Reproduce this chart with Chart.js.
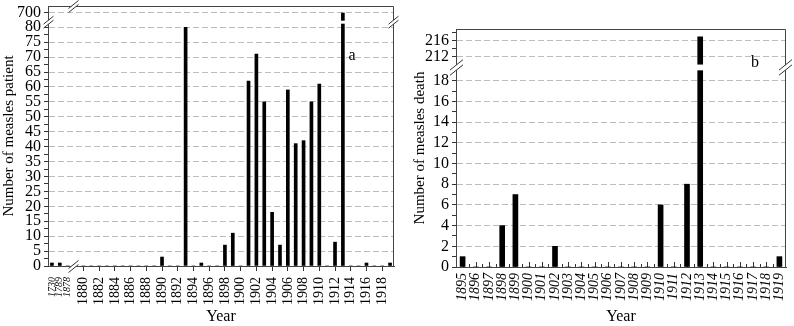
<!DOCTYPE html>
<html>
<head>
<meta charset="utf-8">
<script src="https://cdn.jsdelivr.net/npm/chart.js@4.4.1/dist/chart.umd.min.js"></script>
<style>
  html, body { margin: 0; padding: 0; background: #fff; }
  #wrap { position: relative; width: 794px; height: 326px; }
  #chartA { position: absolute; left: 0; top: 0; }
  #chartB { position: absolute; left: 400px; top: 0; }
</style>
</head>
<body>
<div id="wrap">
  <canvas id="chartA" width="400" height="326"></canvas>
  <canvas id="chartB" width="394" height="326"></canvas>
</div>
<script>
const SERIF = '"Liberation Serif", "Times New Roman", serif';

// (a) measles patients per year ('' is the gap after the axis break)
const patientYears = ['1730', '1789', '1878', '',
  '1880', '1881', '1882', '1883', '1884', '1885', '1886', '1887', '1888', '1889',
  '1890', '1891', '1892', '1893', '1894', '1895', '1896', '1897', '1898', '1899',
  '1900', '1901', '1902', '1903', '1904', '1905', '1906', '1907', '1908', '1909',
  '1910', '1911', '1912', '1913', '1914', '1915', '1916', '1917', '1918', '1919'];
const patientCounts = [1, 1, 0, null,
  0, 0, 0, 0, 0, 0, 0, 0, 0, 0,
  3, 0, 0, 80, 0, 1, 0, 0, 7, 11,
  0, 62, 71, 55, 18, 7, 59, 41, 42, 55,
  61, 0, 8, 700, 0, 0, 1, 0, 0, 1];
const patientMajorTicks = [0, 5, 10, 15, 20, 25, 30, 35, 40, 45, 50, 55, 60, 65, 70, 75, 80, 700];
const patientMinorTicks = [2.5, 7.5, 12.5, 17.5, 22.5, 27.5, 32.5, 37.5, 42.5, 47.5, 52.5, 57.5,
  62.5, 67.5, 72.5, 77.5];

// (b) measles deaths per year
const deathYears = ['1895', '1896', '1897', '1898', '1899', '1900', '1901', '1902', '1903',
  '1904', '1905', '1906', '1907', '1908', '1909', '1910', '1911', '1912', '1913', '1914',
  '1915', '1916', '1917', '1918', '1919'];
const deathCounts = [1, 0, 0, 4, 7, 0, 0, 2, 0, 0, 0, 0, 0, 0, 0, 6, 0, 8, 217, 0, 0, 0, 0, 0, 1];
const deathMajorTicks = [0, 2, 4, 6, 8, 10, 12, 14, 16, 18, 212, 216];
const deathMinorTicks = [1, 3, 5, 7, 9, 11, 13, 15, 17, 214, 218];

/**
 * Linear axis with one break: two value ranges, each mapped to its own
 * share of the axis length.
 */
class BrokenScale extends Chart.LinearScale {
    static id = 'broken';
    static defaults = Chart.LinearScale.defaults;

    buildTicks() {
        const o = this.options;
        const ticks = o.majorValues.map(v => ({ value: v, minor: false }))
            .concat(o.minorValues.map(v => ({ value: v, minor: true })));
        return ticks.sort((a, b) => a.value - b.value);
    }

    toDecimal(value) {
        const o = this.options;
        const [l0, l1] = o.lowerRange, [u0, u1] = o.upperRange;
        const [ls, le] = o.lowerSpan, [us, ue] = o.upperSpan;
        if (value <= l1) return ls + (value - l0) / (l1 - l0) * (le - ls);
        if (value >= u0) return us + (value - u0) / (u1 - u0) * (ue - us);
        return (le + us) / 2;
    }

    getPixelForValue(value) {
        if (value === null || value === undefined || isNaN(value)) return NaN;
        return this.getPixelForDecimal(this.toDecimal(value));
    }

    getValueForPixel(pixel) {
        const o = this.options;
        const d = this.getDecimalForPixel(pixel);
        const [l0, l1] = o.lowerRange, [u0, u1] = o.upperRange;
        const [ls, le] = o.lowerSpan, [us, ue] = o.upperSpan;
        if (d <= le) return l0 + (d - ls) / (le - ls) * (l1 - l0);
        return u0 + (d - us) / (ue - us) * (u1 - u0);
    }
}
Chart.register(BrokenScale);

// "//" break mark, white between the strokes
const drawSlash = (ctx, x, y, s) => {
    ctx.save();
    ctx.translate(x, y);
    ctx.scale(s, s);
    ctx.fillStyle = '#fff';
    ctx.beginPath();
    ctx.moveTo(-5, 2); ctx.lineTo(5, -6); ctx.lineTo(5, -2); ctx.lineTo(-5, 6);
    ctx.closePath();
    ctx.fill();
    ctx.strokeStyle = '#333';
    ctx.lineWidth = 1 / s;
    ctx.beginPath();
    ctx.moveTo(-5, 2); ctx.lineTo(5, -6);
    ctx.moveTo(-5, 6); ctx.lineTo(5, -2);
    ctx.stroke();
    ctx.restore();
};

// frame, axis breaks, panel letter and inner x ticks
const makeDecor = ({ letter, letterAt, slashSize, xBreakIndex, innerTicks }) => ({
    id: 'decor',
    beforeDatasetsDraw(chart) {
        if (!innerTicks) return;
        const { ctx, chartArea: a, scales: { x } } = chart;
        const n = chart.data.labels.length;
        ctx.save();
        ctx.strokeStyle = '#333';
        ctx.lineWidth = 1;
        ctx.beginPath();
        for (let i = 0; i < n; i++) {
            const px = Math.round(x.getPixelForValue(i)) + 0.5;
            ctx.moveTo(px, a.bottom); ctx.lineTo(px, a.bottom - 5);
            if (i < n - 1) {
                const mid = Math.round((x.getPixelForValue(i) + x.getPixelForValue(i + 1)) / 2) + 0.5;
                ctx.moveTo(mid, a.bottom); ctx.lineTo(mid, a.bottom - 3);
            }
        }
        ctx.stroke();
        ctx.restore();
    },
    afterDatasetsDraw(chart) {
        // gap through the bars at the value break
        const { ctx, chartArea: a, scales: { y } } = chart;
        const top = y.getPixelForValue(y.options.upperRange[0]);
        const bottom = y.getPixelForValue(y.options.lowerRange[1]);
        ctx.save();
        ctx.fillStyle = '#fff';
        ctx.fillRect(a.left + 1, top, a.width - 2, bottom - top);
        ctx.restore();
    },
    afterDraw(chart) {
        const { ctx, chartArea: a, scales: { x, y } } = chart;
        const left = Math.round(a.left) + 0.5;
        const right = Math.round(a.right) - 0.5;
        const top = Math.round(a.top) + 0.5;
        ctx.save();
        ctx.strokeStyle = '#444';
        ctx.lineWidth = 1;
        ctx.beginPath();
        ctx.moveTo(left, top); ctx.lineTo(right, top); ctx.lineTo(right, a.bottom);
        ctx.stroke();
        ctx.restore();

        const breakY = (y.getPixelForValue(y.options.upperRange[0]) +
            y.getPixelForValue(y.options.lowerRange[1])) / 2;
        drawSlash(ctx, left, breakY, slashSize);
        drawSlash(ctx, right, breakY, slashSize);
        if (xBreakIndex !== undefined) {
            const bx = x.getPixelForValue(xBreakIndex) - 2;
            drawSlash(ctx, bx, top, slashSize);
            drawSlash(ctx, bx, Math.round(a.bottom) + 0.5, slashSize);
        }

        ctx.save();
        ctx.fillStyle = '#000';
        ctx.font = '16px ' + SERIF;
        ctx.textAlign = 'center';
        ctx.textBaseline = 'middle';
        ctx.fillText(letter, a.left + letterAt[0] * a.width, a.top + letterAt[1] * a.height);
        ctx.restore();
    }
});

const yAxis = (title, titlePad, width, extra) => Object.assign({
    type: 'broken',
    grid: {
        color: c => (c.tick && !c.tick.minor && c.tick.value !== 0) ? '#bdbdbd' : 'rgba(0,0,0,0)',
        tickColor: '#333',
        tickLength: 4
    },
    border: { color: '#444', dash: [6, 3] },
    ticks: {
        autoSkip: false,
        padding: 3,
        color: '#000',
        font: { family: SERIF, size: 16 },
        callback: (v, i, ticks) => ticks[i].minor ? '' : String(v)
    },
    title: {
        display: true, text: title, color: '#000',
        font: { family: SERIF, size: 15 },
        padding: { top: titlePad, bottom: 0 }
    },
    afterFit: s => { s.width = width; s.paddingTop = 0; s.paddingBottom = 0; }
}, extra);

const xTitle = {
    display: true, text: 'Year', color: '#000',
    font: { family: SERIF, size: 16 },
    padding: { top: 0, bottom: 0 }
};

/**
 * Panel a: patients
 * ======================================================================== */
const initPatients = () => {
    const isTicked = i => i >= 4 && Number(patientYears[i]) % 2 === 0;
    const hasLabel = i => i < 3 || isTicked(i);

    new Chart(document.getElementById('chartA'), {
        type: 'bar',
        data: {
            labels: patientYears,
            datasets: [{
                data: patientCounts,
                backgroundColor: '#000',
                barThickness: 3
            }]
        },
        options: {
            responsive: false,
            animation: false,
            layout: { padding: { top: 6, right: 6, left: 0, bottom: 0 } },
            plugins: { legend: { display: false }, tooltip: { enabled: false } },
            scales: {
                x: {
                    grid: {
                        offset: false,
                        drawOnChartArea: false,
                        tickLength: 5,
                        tickColor: c => isTicked(c.index) ? '#333' : 'rgba(0,0,0,0)'
                    },
                    border: { color: '#444' },
                    ticks: {
                        autoSkip: false,
                        minRotation: 90,
                        maxRotation: 90,
                        padding: 6,
                        color: '#000',
                        font: c => c.index < 3
                            ? { family: SERIF, size: 10, style: 'italic' }
                            : { family: SERIF, size: 14 },
                        callback: (v, i) => hasLabel(i) ? patientYears[i] : ''
                    },
                    title: xTitle,
                    afterFit: s => { s.height = 60; s.paddingLeft = 0; s.paddingRight = 0; }
                },
                y: yAxis('Number of measles patient', 0, 48, {
                    min: 0, max: 710,
                    majorValues: patientMajorTicks,
                    minorValues: patientMinorTicks,
                    lowerRange: [0, 81.2], lowerSpan: [0, 0.932],
                    upperRange: [689, 710], upperSpan: [0.9435, 1]
                })
            }
        },
        plugins: [makeDecor({ letter: 'a', letterAt: [0.879, 0.19], slashSize: 1, xBreakIndex: 3 })]
    });
};

/**
 * Panel b: deaths
 * ======================================================================== */
const initDeaths = () => {
    new Chart(document.getElementById('chartB'), {
        type: 'bar',
        data: {
            labels: deathYears,
            datasets: [{
                data: deathCounts,
                backgroundColor: '#000',
                barThickness: 5
            }]
        },
        options: {
            responsive: false,
            animation: false,
            layout: { padding: { top: 29, right: 8, left: 0, bottom: 0 } },
            plugins: { legend: { display: false }, tooltip: { enabled: false } },
            scales: {
                x: {
                    grid: { offset: false, drawOnChartArea: false, drawTicks: false },
                    border: { color: '#444' },
                    ticks: {
                        autoSkip: false,
                        minRotation: 90,
                        maxRotation: 90,
                        padding: 6,
                        color: '#000',
                        font: { family: SERIF, size: 14, style: 'italic' }
                    },
                    title: xTitle,
                    afterFit: s => { s.height = 59; s.paddingLeft = 0; s.paddingRight = 0; }
                },
                y: yAxis('Number of measles death', 11, 56, {
                    min: 0, max: 219,
                    majorValues: deathMajorTicks,
                    minorValues: deathMinorTicks,
                    lowerRange: [0, 19], lowerSpan: [0, 0.8263],
                    upperRange: [210, 219], upperSpan: [0.8506, 1]
                })
            }
        },
        plugins: [makeDecor({ letter: 'b', letterAt: [0.906, 0.143], slashSize: 1.3, innerTicks: true })]
    });
};

initPatients();
initDeaths();
</script>
</body>
</html>
